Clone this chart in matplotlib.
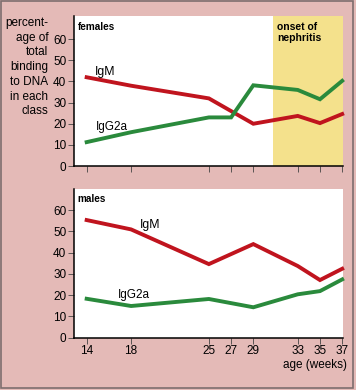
#!/usr/bin/env python
"""
anti-DNA antibody classes in females and males, by age
"""

import matplotlib
matplotlib.use('Agg')
import matplotlib.pyplot as plt
import matplotlib.patches as mpa

# data
weeks_ticks = [14, 18, 25, 27, 29, 33, 35, 37]

f_igm_weeks = [14, 18, 25, 29, 33, 35, 37]
f_igm = [42, 38, 32, 20, 23.7, 20.3, 24.6]
f_igg_weeks = [14, 18, 25, 27, 29, 33, 35, 37]
f_igg = [11.3, 16, 23, 23, 38.2, 36, 31.6, 40.3]

m_weeks = [14, 18, 25, 29, 33, 35, 37]
m_igm = [55.3, 50.9, 34.6, 44, 33.7, 27.1, 32.4]
m_igg = [18.3, 14.9, 18.2, 14.3, 20.4, 21.9, 27.4]

onset_start = 30.75

pink = '#e4bab7'
red = '#c0141e'
green = '#2a8a3c'
yellow = '#f4e18c'

params = {
        'font.family': ['Liberation Sans', 'DejaVu Sans'],
        'font.size': 8.5,
        'xtick.labelsize': 8.5,
        'ytick.labelsize': 8.5,
        }
matplotlib.rcParams.update(params)

W, H = 356, 390
fig = plt.figure(figsize=(W / 100, H / 100), dpi=100)
fig.patch.set_facecolor(pink)

# border round the figure
border = mpa.Rectangle((0.6 / W, 2 / H), 352.5 / W, 387.5 / H,
                       transform=fig.transFigure, fill=False,
                       edgecolor='#7d6e6e', lw=1.2)
fig.patches.append(border)

ax1 = fig.add_axes([74 / W, 224 / H, 269.3 / W, 150 / H])
ax2 = fig.add_axes([74 / W, 52.3 / H, 269.3 / W, 148.7 / H])

for ax, top in [(ax1, 71.0), (ax2, 69.9)]:
    ax.set_xlim(12.86, 37.1)
    ax.set_ylim(0, top)
    ax.set_facecolor('white')
    for s in ['top', 'right']:
        ax.spines[s].set_visible(False)
    for s in ['left', 'bottom']:
        ax.spines[s].set_linewidth(1.1)
    ax.set_yticks(range(0, 70, 10))
    ax.set_xticks(weeks_ticks)
    ax.tick_params(length=4.5, width=0.6, pad=1, color='#444444')

ax1.set_xticklabels([])

# onset of nephritis
ax1.axvspan(onset_start, 37.1, color=yellow, lw=0, zorder=0)
ax1.text(onset_start + 0.4, 68.2, 'onset of\nnephritis', fontsize=7.5,
         fontweight='bold', va='top', ha='left', linespacing=1.1)

ax1.plot(f_igm_weeks, f_igm, color=red, lw=2.8, solid_joinstyle='miter',
         clip_on=False)
ax1.plot(f_igg_weeks, f_igg, color=green, lw=2.8, solid_joinstyle='miter',
         clip_on=False)
ax1.text(14.75, 44.5, 'IgM', fontsize=8.8, va='center')
ax1.text(14.8, 18.3, 'IgG2a', fontsize=8.5, va='center')
ax1.text(13.2, 65.6, 'females', fontsize=7.2, fontweight='bold',
         va='center')

ax2.plot(m_weeks, m_igm, color=red, lw=2.8, solid_joinstyle='miter',
         clip_on=False)
ax2.plot(m_weeks, m_igg, color=green, lw=2.8, solid_joinstyle='miter',
         clip_on=False)
ax2.text(18.8, 53, 'IgM', fontsize=8.8, va='center')
ax2.text(16.85, 20.1, 'IgG2a', fontsize=8.5, va='center')
ax2.text(13.2, 65.2, 'males', fontsize=7.2, fontweight='bold', va='center')

fig.text(347 / W, (H - 365) / H, 'age (weeks)', ha='right', va='center',
         fontsize=8.5)
fig.text(48.5 / W, (H - 17) / H,
         'percent-\nage of\ntotal\nbinding\nto DNA\nin each\nclass',
         ha='right', va='top', fontsize=8.5, linespacing=1.3)

plt.savefig('out.png', dpi=100, facecolor=pink)
